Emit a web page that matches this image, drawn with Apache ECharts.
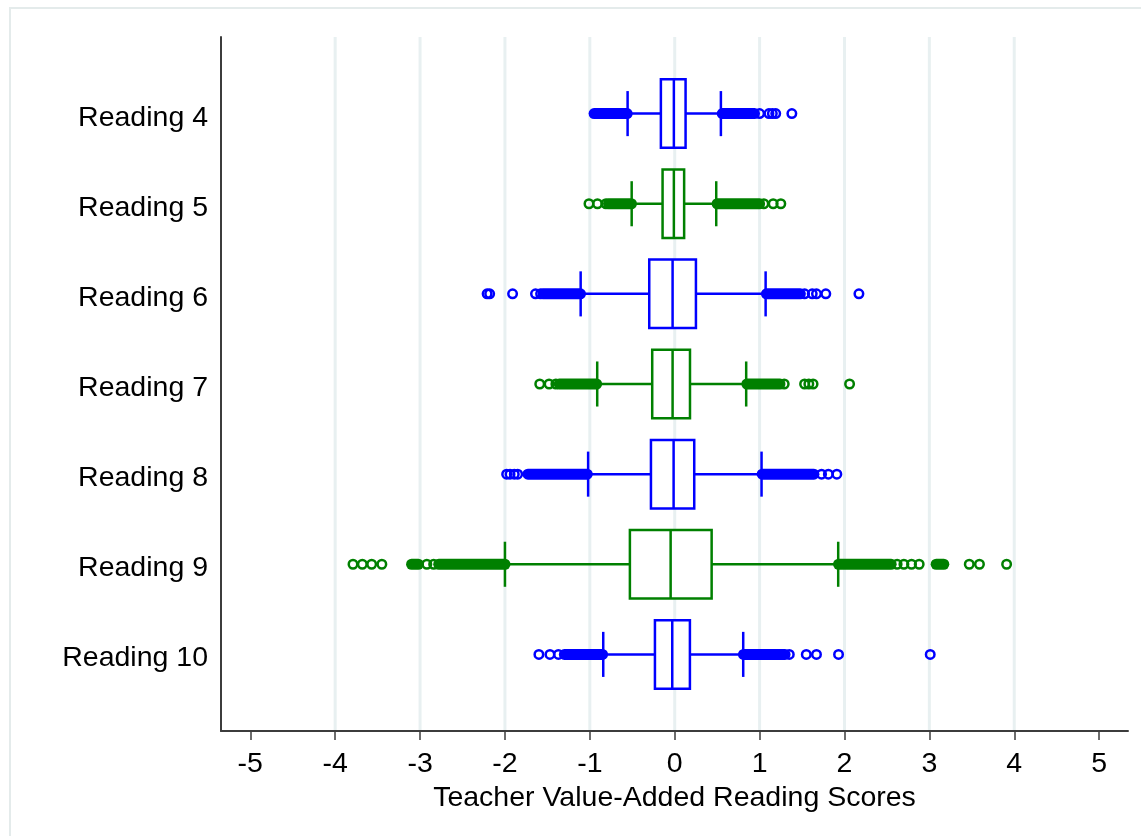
<!DOCTYPE html>
<html>
<head>
<meta charset="utf-8">
<script src="https://cdn.jsdelivr.net/npm/echarts@6/dist/echarts.min.js"></script>
<style>
html,body{margin:0;padding:0;background:#ffffff;}
#chart{width:1141px;height:836px;}
</style>
</head>
<body>
<div id="chart"></div>
<script>
// ---------------- data ----------------
const categories = ['Reading 4', 'Reading 5', 'Reading 6', 'Reading 7', 'Reading 8', 'Reading 9', 'Reading 10'];
const lowWhisker  = [-0.555, -0.507, -1.108, -0.913, -1.020, -2.000, -0.842];
const q1          = [-0.163, -0.143, -0.300, -0.265, -0.280, -0.528, -0.233];
const median      = [-0.010, -0.010, -0.025, -0.025, -0.013, -0.048, -0.029];
const q3          = [ 0.128,  0.111,  0.250,  0.180,  0.230,  0.435,  0.179];
const highWhisker = [ 0.544,  0.489,  1.071,  0.842,  1.023,  1.926,  0.807];

// individual outliers, one list per row
const outliers = [
  [1.00, 1.11, 1.15, 1.19, 1.38],
  [-1.01, -0.91, -0.81, 1.05, 1.16, 1.25],
  [-2.21, -2.18, -1.91, -1.64, -1.58, 1.53, 1.62, 1.67, 1.78, 2.17],
  [-1.59, -1.48, -1.40, 1.29, 1.53, 1.58, 1.63, 2.06],
  [-1.98, -1.94, -1.89, -1.85, 1.73, 1.81, 1.91],
  [-3.79, -3.68, -3.57, -3.45, -2.92, -2.84, 2.62, 2.70, 2.79, 2.88, 3.47, 3.59, 3.91],
  [-1.60, -1.47, -1.37, 1.35, 1.55, 1.67, 1.93, 3.01]
];
// stretches of overlapping outliers too dense to separate: [from, to]
const denseRuns = [
  [[-0.95, -0.56], [0.56, 0.94]],
  [[-0.78, -0.51], [0.50, 1.00]],
  [[-1.55, -1.11], [1.08, 1.48]],
  [[-1.36, -0.92], [0.85, 1.24]],
  [[-1.73, -1.03], [1.03, 1.64]],
  [[-3.10, -3.02], [-2.78, -2.00], [1.93, 2.55], [3.08, 3.17]],
  [[-1.30, -0.85], [0.81, 1.30]]
];
const xTicks = [-5, -4, -3, -2, -1, 0, 1, 2, 3, 4, 5];
const gridValues = [-4, -3, -2, -1, 0, 1, 2, 3, 4];
const xTitle = 'Teacher Value-Added Reading Scores';

// ---------------- styling ----------------
const palette = ['#0000ff', '#008000'];
const FONT = "'Liberation Sans', Arial, sans-serif";
const AXIS = '#3c3c3c';
const FS = 28.5;
const LW = 2.5;
const LABEL_NUDGE = 0.045; // small downward nudge of row labels (in row units)

const rowIdx = categories.map((c, i) => i + 1);
const colorOf = r => palette[(r - 1) % 2];

const boxData = rowIdx.map((r, i) => [r, lowWhisker[i], q1[i], median[i], q3[i], highWhisker[i]]);
const runData = [];
denseRuns.forEach((runs, i) => runs.forEach(rg => runData.push([i + 1, rg[0], rg[1]])));
const outlierData = [];
outliers.forEach((list, i) => list.forEach(v => outlierData.push({
  value: [v, i + 1],
  itemStyle: { borderColor: colorOf(i + 1) }
})));

const chart = echarts.init(document.getElementById('chart'), null, { renderer: 'canvas' });

const option = {
  backgroundColor: '#ffffff',
  animation: false,
  graphic: [
    { type: 'line', shape: { x1: 9, y1: 8, x2: 1141, y2: 8 }, style: { stroke: '#e4ebeb', lineWidth: 2 }, silent: true },
    { type: 'line', shape: { x1: 10, y1: 8, x2: 10, y2: 836 }, style: { stroke: '#e4ebeb', lineWidth: 2 }, silent: true }
  ],
  grid: { left: 221, right: 13, top: 37, bottom: 105, containLabel: false },
  xAxis: {
    type: 'value',
    min: -5.345,
    max: 5.34,
    name: xTitle,
    nameLocation: 'middle',
    nameGap: 42,
    nameTextStyle: { fontSize: FS, color: '#000', fontFamily: FONT },
    axisLine: { show: true, onZero: false, lineStyle: { color: AXIS, width: 2 } },
    axisTick: { show: true, customValues: xTicks, length: 9, lineStyle: { color: AXIS, width: 1.5 } },
    axisLabel: { show: true, customValues: xTicks, margin: 19, fontSize: FS, color: '#000', fontFamily: FONT },
    splitLine: { show: false }
  },
  yAxis: {
    type: 'value',
    inverse: true,
    min: 0.15,
    max: 7.85,
    axisLine: { show: true, onZero: false, lineStyle: { color: AXIS, width: 2 } },
    axisTick: { show: false },
    axisLabel: {
      show: true,
      customValues: rowIdx.map(r => r + LABEL_NUDGE),
      margin: 13,
      fontSize: FS,
      color: '#000',
      fontFamily: FONT,
      formatter: v => categories[Math.round(v) - 1] || ''
    },
    splitLine: { show: false }
  },
  series: [
    {
      type: 'custom',
      name: 'grid',
      silent: true,
      z: 1,
      data: gridValues.map(v => [v, 4]),
      encode: { x: 0, y: 1 },
      renderItem: function (params, api) {
        const x = api.coord([api.value(0), 4])[0];
        const cs = params.coordSys;
        return {
          type: 'line',
          shape: { x1: x, y1: cs.y, x2: x, y2: cs.y + cs.height - 1 },
          style: { stroke: '#e8f0f1', lineWidth: 3 }
        };
      }
    },
    {
      type: 'custom',
      name: 'dense',
      silent: true,
      z: 3,
      data: runData,
      encode: { x: [1, 2], y: 0 },
      renderItem: function (params, api) {
        const r = api.value(0);
        const p1 = api.coord([api.value(1), r]);
        const p2 = api.coord([api.value(2), r]);
        const h = 11;
        return {
          type: 'rect',
          shape: { x: p1[0] - h / 2, y: p1[1] - h / 2, width: p2[0] - p1[0] + h, height: h, r: h / 2 },
          style: { fill: colorOf(r) }
        };
      }
    },
    {
      type: 'scatter',
      name: 'outliers',
      silent: true,
      z: 3,
      symbol: 'circle',
      symbolSize: 8.5,
      itemStyle: { color: 'rgba(255,255,255,0)', borderWidth: 2.5, opacity: 1 },
      data: outlierData
    },
    {
      type: 'custom',
      name: 'boxes',
      silent: true,
      z: 4,
      data: boxData,
      encode: { x: [1, 2, 3, 4, 5], y: 0 },
      renderItem: function (params, api) {
        const r = api.value(0);
        const yC = api.coord([0, r])[1];
        const xs = [1, 2, 3, 4, 5].map(d => api.coord([api.value(d), r])[0]);
        const boxH = Math.abs(api.coord([0, r + 0.38])[1] - api.coord([0, r - 0.38])[1]);
        const capH = Math.abs(api.coord([0, r + 0.25])[1] - api.coord([0, r - 0.25])[1]);
        const c = colorOf(r);
        const ls = { stroke: c, lineWidth: LW, fill: null };
        return {
          type: 'group',
          children: [
            { type: 'line', shape: { x1: xs[0], y1: yC, x2: xs[1], y2: yC }, style: ls },
            { type: 'line', shape: { x1: xs[3], y1: yC, x2: xs[4], y2: yC }, style: ls },
            { type: 'line', shape: { x1: xs[0], y1: yC - capH / 2, x2: xs[0], y2: yC + capH / 2 }, style: ls },
            { type: 'line', shape: { x1: xs[4], y1: yC - capH / 2, x2: xs[4], y2: yC + capH / 2 }, style: ls },
            { type: 'rect', shape: { x: xs[1], y: yC - boxH / 2, width: xs[3] - xs[1], height: boxH }, style: { stroke: c, lineWidth: LW, fill: '#ffffff' } },
            { type: 'line', shape: { x1: xs[2], y1: yC - boxH / 2, x2: xs[2], y2: yC + boxH / 2 }, style: ls }
          ]
        };
      }
    }
  ]
};

chart.setOption(option);
</script>
</body>
</html>
